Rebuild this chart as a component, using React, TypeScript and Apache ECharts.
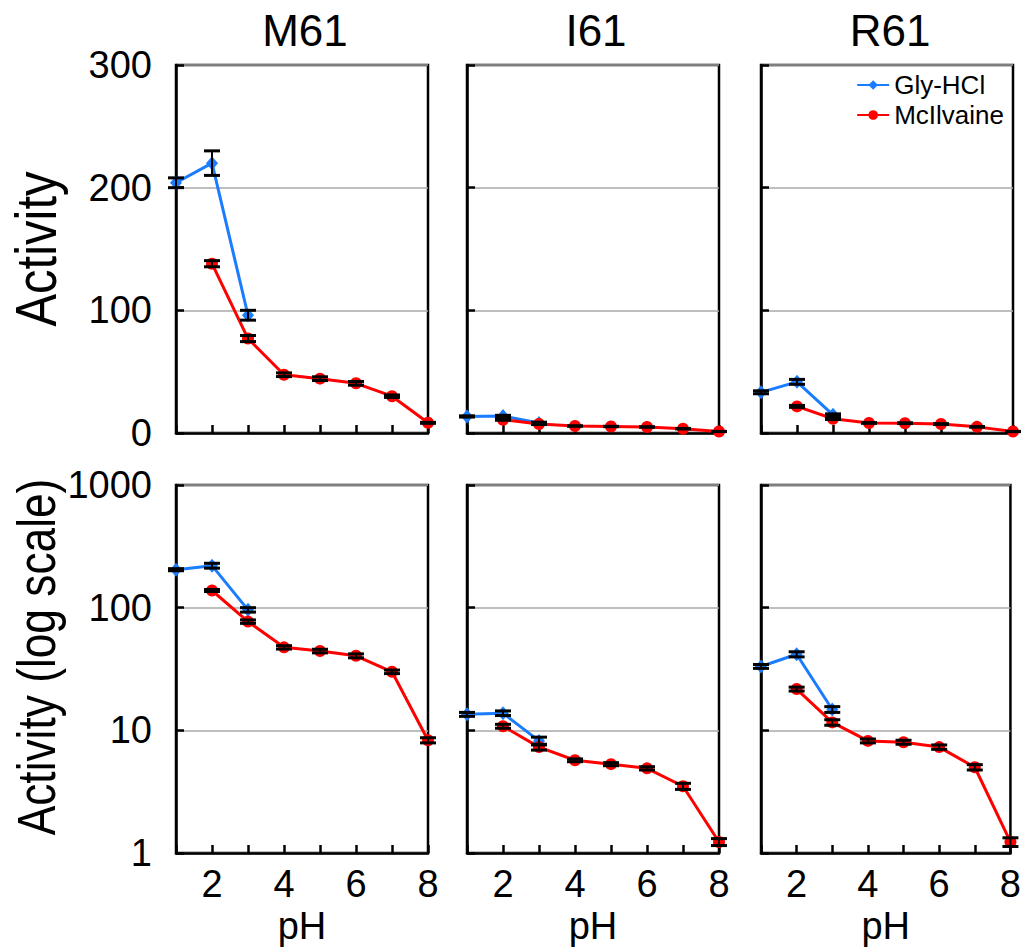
import React, { useEffect, useRef } from "react";
import * as echarts from "echarts";

// ---- data ----
const panels = ["M61", "I61", "R61"];
const phGly = [1, 2, 3];
const phMc = [2, 3, 4, 5, 6, 7, 8];

const glyM61 = [204, 220, 96];
const glyM61Err = [4, 10, 4];
const mcM61 = [138, 77, 47.5, 44.3, 40.5, 30, 8.3];
const mcM61Err = [2.5, 2.5, 1.5, 1.5, 1.5, 1, 0.4];

const glyI61 = [13.5, 13.8, 8.2];
const glyI61Err = [0.5, 0.6, 0.6];
const mcI61 = [10.8, 7.3, 5.7, 5.3, 4.9, 3.5, 1.23];
const mcI61Err = [0.4, 0.4, 0.15, 0.15, 0.15, 0.2, 0.08];

const glyR61 = [33.2, 41.7, 14.8];
const glyR61Err = [1.2, 2.0, 0.8];
const mcR61 = [21.7, 11.6, 8.2, 8.0, 7.3, 5.0, 1.23];
const mcR61Err = [0.8, 0.6, 0.3, 0.3, 0.3, 0.25, 0.1];

const linearTicks = [0, 300, 100]; // min, max, interval
const logTicks = [1, 1000];

const glyData = [glyM61, glyI61, glyR61];
const glyErr = [glyM61Err, glyI61Err, glyR61Err];
const mcData = [mcM61, mcI61, mcR61];
const mcErr = [mcM61Err, mcI61Err, mcR61Err];

// ---- style ----
const FONT = "Liberation Sans";
const BLUE = "#1a7cff";
const RED = "#ff0000";
const colLeft = [176, 467, 761];
const colWidth = 252;
const rowTop = [65, 485];
const rowHeight = 368;

function errRender(params: any, api: any) {
  const x = api.value(0);
  const lo = api.value(1);
  const hi = api.value(2);
  const pLo = api.coord([x, lo]);
  const pHi = api.coord([x, hi]);
  const hw = 8;
  return {
    type: "group",
    children: [
      { type: "line", shape: { x1: pLo[0], y1: pLo[1], x2: pHi[0], y2: pHi[1] }, style: { stroke: "#000", lineWidth: 2 } },
      { type: "line", shape: { x1: pLo[0] - hw, y1: pLo[1], x2: pLo[0] + hw, y2: pLo[1] }, style: { stroke: "#000", lineWidth: 3 } },
      { type: "line", shape: { x1: pHi[0] - hw, y1: pHi[1], x2: pHi[0] + hw, y2: pHi[1] }, style: { stroke: "#000", lineWidth: 3 } },
    ],
  };
}

export default function App() {
  const ref = useRef<HTMLDivElement>(null);
  useEffect(() => {
    if (!ref.current) return;
    const chart = echarts.init(ref.current, undefined, { renderer: "svg" });
    const grid: any[] = [];
    const xAxis: any[] = [];
    const yAxis: any[] = [];
    const series: any[] = [];
    for (let r = 0; r < 2; r++) {
      for (let c = 0; c < 3; c++) {
        const idx = r * 3 + c;
        grid.push({
          left: colLeft[c], top: rowTop[r], width: colWidth, height: rowHeight,
          show: true, borderColor: "#000", borderWidth: 2.5, backgroundColor: "transparent",
        });
        xAxis.push({
          type: "value", gridIndex: idx, min: 1, max: 8, interval: 1,
          axisLine: { show: true, lineStyle: { color: "#000", width: 2.5 } },
          axisTick: { show: true, inside: true, length: 8, lineStyle: { color: "#000", width: 2.5 } },
          splitLine: { show: false },
          axisLabel: {
            show: r === 1, margin: 12, fontSize: 38, color: "#000", fontFamily: FONT,
            formatter: (v: number) => (v % 2 === 0 ? String(v) : ""),
          },
          name: r === 1 ? "pH" : "", nameLocation: "middle", nameGap: 54,
          nameTextStyle: { fontSize: 38, color: "#000", fontFamily: FONT },
        });
        const common = {
          gridIndex: idx,
          axisLine: { show: true, lineStyle: { color: "#000", width: 2.5 } },
          axisTick: { show: true, inside: true, length: 8, lineStyle: { color: "#000", width: 2.5 } },
          splitLine: { show: true, lineStyle: { color: "#a8a8a8", width: 1.5 } },
          axisLabel: {
            show: c === 0, margin: 24, fontSize: 38, color: "#000", fontFamily: FONT,
            formatter: (v: number) => String(Math.round(v)),
          },
        };
        if (r === 0) {
          yAxis.push({ ...common, type: "value", min: linearTicks[0], max: linearTicks[1], interval: linearTicks[2] });
        } else {
          yAxis.push({ ...common, type: "log", logBase: 10, min: logTicks[0], max: logTicks[1] });
        }
        const g = glyData[c], ge = glyErr[c], m = mcData[c], me = mcErr[c];
        series.push({
          name: "Gly-HCl", type: "line", xAxisIndex: idx, yAxisIndex: idx, clip: false,
          data: phGly.map((p, i) => [p, g[i]]),
          symbol: "diamond", symbolSize: [12, 14],
          lineStyle: { color: BLUE, width: 3 }, itemStyle: { color: BLUE }, z: 2,
        });
        series.push({
          name: "McIlvaine", type: "line", xAxisIndex: idx, yAxisIndex: idx, clip: false,
          data: phMc.map((p, i) => [p, m[i]]),
          symbol: "circle", symbolSize: 12,
          lineStyle: { color: RED, width: 3 }, itemStyle: { color: RED }, z: 2,
        });
        series.push({
          name: "errGly", type: "custom", xAxisIndex: idx, yAxisIndex: idx, clip: false, z: 3,
          renderItem: errRender, encode: { x: 0, y: [1, 2] },
          data: phGly.map((p, i) => [p, g[i] - ge[i], g[i] + ge[i]]),
        });
        series.push({
          name: "errMc", type: "custom", xAxisIndex: idx, yAxisIndex: idx, clip: false, z: 3,
          renderItem: errRender, encode: { x: 0, y: [1, 2] },
          data: phMc.map((p, i) => [p, m[i] - me[i], m[i] + me[i]]),
        });
      }
    }
    const graphic: any[] = panels.map((t, c) => ({
      type: "text", x: colLeft[c] + colWidth / 2 + 3, y: 30,
      style: { text: t, fontSize: 44, fontFamily: FONT, fill: "#000", align: "center", verticalAlign: "middle" },
    }));
    graphic.push({
      type: "text", x: 36, y: 249, rotation: Math.PI / 2, scaleX: 0.86,
      style: { text: "Activity", fontSize: 57, fontFamily: FONT, fill: "#000", align: "center", verticalAlign: "middle" },
    });
    graphic.push({
      type: "text", x: 36, y: 657, rotation: Math.PI / 2, scaleX: 0.82,
      style: { text: "Activity (log scale)", fontSize: 54, fontFamily: FONT, fill: "#000", align: "center", verticalAlign: "middle" },
    });
    chart.setOption({
      animation: false,
      backgroundColor: "#fff",
      grid, xAxis, yAxis, series, graphic,
      legend: {
        data: ["Gly-HCl", "McIlvaine"], orient: "vertical", right: 20, top: 72,
        itemWidth: 32, itemHeight: 12, itemGap: 4, padding: 0,
        textStyle: { fontSize: 26, fontFamily: FONT, color: "#000" },
      },
    });
    return () => chart.dispose();
  }, []);
  return <div ref={ref} style={{ position: "absolute", left: 0, top: 0, width: 1024, height: 949 }} />;
}
